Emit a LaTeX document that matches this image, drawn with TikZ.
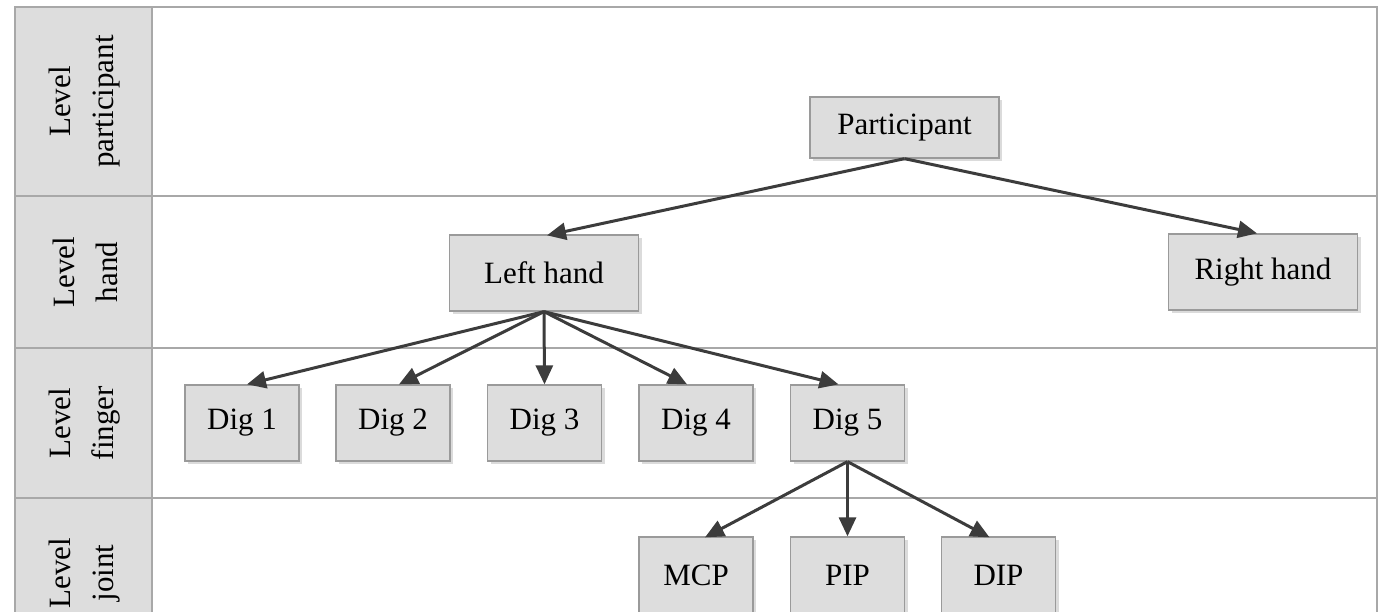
\documentclass[tikz,border=0pt]{standalone}
\usepackage{fontspec}
\setmainfont{Liberation Serif}
\usetikzlibrary{arrows.meta,shadows}
\definecolor{boxfill}{HTML}{DDDDDD}
\definecolor{boxline}{HTML}{9A9A9A}
\definecolor{gridline}{HTML}{A8A8A8}
\definecolor{arrowcol}{HTML}{3C3C3C}
\begin{document}
\begin{tikzpicture}[x=1pt,y=-1pt,
  every node/.style={font=\fontsize{31}{43}\selectfont},
  box/.style={draw=boxline,line width=1.3pt,fill=boxfill,inner sep=0pt,
    drop shadow={shadow xshift=3pt,shadow yshift=-3pt,fill=black!14,opacity=1}},
  digbox/.style={box,minimum width=114pt,minimum height=76pt},
  handbox/.style={box,minimum width=189pt,minimum height=76pt},
  levellabel/.style={rotate=90,align=center,inner sep=0pt},
  link/.style={draw=arrowcol,line width=3pt,
    -{Triangle[length=19pt,width=17pt,fill=arrowcol]}},
  grid/.style={draw=gridline,line width=2pt}]
\useasboundingbox (0,0) rectangle (1386,612);
\begin{scope}
\clip (0,0) rectangle (1386,612);
% level column and frame
\fill[boxfill] (15,7) rectangle (152,660);
\draw[grid] (15,660) -- (15,7) -- (1377,7) -- (1377,660);
\draw[grid] (152,7) -- (152,660);
\draw[grid] (15,196) -- (1377,196);
\draw[grid] (15,348) -- (1377,348);
\draw[grid] (15,498) -- (1377,498);

% level labels
\node[levellabel] (lv1) at (85,101.5) {Level\\participant};
\node[levellabel] (lv2) at (85,272) {Level\\hand};
\node[levellabel] (lv3) at (85,423) {Level\\finger};
\node[levellabel] (lv4) at (85,573) {Level\\joint};

% tree
\node[box,minimum width=189pt,minimum height=61pt] (part) at (904.5,127.5) {Participant};
\node[handbox] (lh) at (544,273) {Left hand};
\node[handbox] (rh) at (1263,272) {Right hand};
\node[digbox] (d1) at (242,423) {Dig 1};
\node[digbox] (d2) at (393,423) {Dig 2};
\node[digbox] (d3) at (544.5,423) {Dig 3};
\node[digbox] (d4) at (696,423) {Dig 4};
\node[digbox] (d5) at (847.5,423) {Dig 5};
\node[digbox] (mcp) at (696,575) {MCP};
\node[digbox] (pip) at (847.5,575) {PIP};
\node[digbox] (dip) at (998.5,575) {DIP};

% connectors
\draw[link] (part.south) -- ([xshift=3pt,yshift=-1pt]lh.north);
\draw[link] (part.south) -- ([xshift=-6pt]rh.north);
\draw[link] (lh.south) -- ([xshift=5pt]d1.north);
\draw[link] (lh.south) -- ([xshift=6pt]d2.north);
\draw[link] (lh.south) -- (d3.north);
\draw[link] (lh.south) -- ([xshift=-9pt]d4.north);
\draw[link] (lh.south) -- ([xshift=-9pt]d5.north);
\draw[link] (d5.south) -- ([xshift=9pt,yshift=-1pt]mcp.north);
\draw[link] (d5.south) -- (pip.north);
\draw[link] (d5.south) -- ([xshift=-9pt,yshift=-1pt]dip.north);
\end{scope}
\end{tikzpicture}
\end{document}
